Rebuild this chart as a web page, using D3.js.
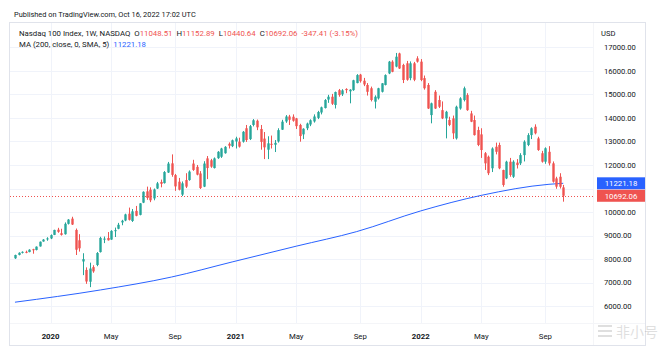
<!DOCTYPE html>
<html><head><meta charset="utf-8">
<script src="https://cdn.jsdelivr.net/npm/d3@7"></script>
<style>
body{margin:0;background:#fff;}
svg{display:block;font-family:Roboto,"Liberation Sans",sans-serif;}
</style>
</head><body>
<svg id="chart" width="671" height="350"></svg>
<script>
// ---------- DATA (weekly bars) ----------
const weeks = [
"2019-10-28","2019-11-04","2019-11-11","2019-11-18","2019-11-25","2019-12-02","2019-12-09","2019-12-16","2019-12-23","2019-12-30",
"2020-01-06","2020-01-13","2020-01-20","2020-01-27","2020-02-03","2020-02-10","2020-02-17","2020-02-24","2020-03-02","2020-03-09",
"2020-03-16","2020-03-23","2020-03-30","2020-04-06","2020-04-13","2020-04-20","2020-04-27","2020-05-04","2020-05-11","2020-05-18",
"2020-05-25","2020-06-01","2020-06-08","2020-06-15","2020-06-22","2020-06-29","2020-07-06","2020-07-13","2020-07-20","2020-07-27",
"2020-08-03","2020-08-10","2020-08-17","2020-08-24","2020-08-31","2020-09-07","2020-09-14","2020-09-21","2020-09-28","2020-10-05",
"2020-10-12","2020-10-19","2020-10-26","2020-11-02","2020-11-09","2020-11-16","2020-11-23","2020-11-30","2020-12-07","2020-12-14",
"2020-12-21","2020-12-28","2021-01-04","2021-01-11","2021-01-18","2021-01-25","2021-02-01","2021-02-08","2021-02-15","2021-02-22",
"2021-03-01","2021-03-08","2021-03-15","2021-03-22","2021-03-29","2021-04-05","2021-04-12","2021-04-19","2021-04-26","2021-05-03",
"2021-05-10","2021-05-17","2021-05-24","2021-05-31","2021-06-07","2021-06-14","2021-06-21","2021-06-28","2021-07-05","2021-07-12",
"2021-07-19","2021-07-26","2021-08-02","2021-08-09","2021-08-16","2021-08-23","2021-08-30","2021-09-06","2021-09-13","2021-09-20",
"2021-09-27","2021-10-04","2021-10-11","2021-10-18","2021-10-25","2021-11-01","2021-11-08","2021-11-15","2021-11-22","2021-11-29",
"2021-12-06","2021-12-13","2021-12-20","2021-12-27","2022-01-03","2022-01-10","2022-01-17","2022-01-24","2022-01-31","2022-02-07",
"2022-02-14","2022-02-21","2022-02-28","2022-03-07","2022-03-14","2022-03-21","2022-03-28","2022-04-04","2022-04-11","2022-04-18",
"2022-04-25","2022-05-02","2022-05-09","2022-05-16","2022-05-23","2022-05-30","2022-06-06","2022-06-13","2022-06-20","2022-06-27",
"2022-07-04","2022-07-11","2022-07-18","2022-07-25","2022-08-01","2022-08-08","2022-08-15","2022-08-22","2022-08-29","2022-09-05",
"2022-09-12","2022-09-19","2022-09-26","2022-10-03","2022-10-10"];

const opens = [
8035,8180,8270,8310,8300,8420,8390,8540,8750,8840,
8880,9030,9250,9100,9060,9500,9720,9240,8800,7900,
7540,7040,7660,7750,8300,8850,8900,8830,9220,9290,
9560,9640,9930,9620,10050,9880,10400,10880,10950,10580,
11000,11280,11230,11680,12070,11570,11290,10740,11360,11360,
12060,11920,11640,11080,12280,12200,11870,12290,12350,12500,
12900,12800,13000,12990,12990,13560,13100,13700,13880,13530,
13120,12650,12900,12860,13000,13500,13850,14060,14050,13980,
13700,13300,13560,13720,13850,14000,14230,14420,14780,14900,
14550,15180,15000,15230,15130,15180,15480,15840,15580,15400,
15260,14690,14830,15110,15400,15890,16390,16180,16740,16250,
16320,15690,16320,16530,16390,15690,15400,14120,15110,14760,
14330,13980,13910,13980,13130,14400,14760,14970,14190,13910,
13485,13300,12500,12350,11860,12775,12850,11785,11430,12140,
11500,12100,12070,12420,12850,13270,13625,13130,12500,12140,
12560,12070,11430,11500,11048.51];

const highs = [
8190,8290,8330,8360,8420,8440,8540,8750,8850,8930,
9050,9250,9330,9290,9560,9700,9800,9300,9060,8250,
7650,7850,7740,8300,8950,8960,9150,9230,9340,9540,
9670,9930,10190,10130,10260,10380,10880,11080,11050,11000,
11280,11380,11740,12130,12450,11620,11450,11300,11650,11770,
12220,12000,11740,12160,12380,12260,12320,12590,12730,12800,
12960,13080,13200,13160,13440,13700,13700,13950,13930,13700,
13400,13220,13250,13060,13560,13920,14120,14130,14150,14000,
13750,13560,13800,13940,14150,14300,14480,14800,14980,15020,
15120,15230,15220,15260,15220,15620,15860,15870,15700,15480,
15330,14960,15280,15480,15850,16420,16450,16760,16770,16300,
16420,16400,16380,16620,16500,15800,15480,14650,15180,14950,
14700,14300,14050,14100,14520,14880,15330,15050,14300,14100,
13625,13560,12550,12400,12750,12950,12950,11800,12180,12300,
12200,12250,12500,13050,13350,13600,13727,13200,12600,12750,
12800,12150,11500,11650,11152.89];

const lows = [
8010,8160,8240,8250,8290,8230,8370,8530,8740,8780,
8850,9020,9120,9000,9040,9470,9450,8175,8320,7320,
6950,6810,7420,7700,8280,8680,8790,8820,8940,9270,
9440,9610,9640,9580,9820,9860,10380,10520,10420,10500,
10980,11050,11210,11660,11500,10900,10920,10680,11020,11330,
11750,11560,10980,11060,11400,11880,11850,12260,12300,12480,
12700,12760,12700,12740,12950,12980,13060,13640,13480,12650,
12250,12250,12700,12550,12950,13490,13790,13700,13840,13530,
12990,13100,13480,13650,13800,13950,14150,14400,14640,14550,
14400,14900,14930,15050,14620,15150,15470,15500,15350,14950,
14700,14400,14780,15080,15380,15860,15940,16150,16080,15480,
15580,15600,15560,16350,15560,15200,14380,13770,14380,14420,
13950,13130,13650,13100,13080,14350,14700,14300,13820,13250,
12800,12300,11790,11570,11700,12450,11820,11076,11400,11500,
11450,11850,12000,12150,12800,13100,13300,12600,12100,12050,
11980,11250,10990,11000,10440.64];

const closes = [
8175,8270,8310,8290,8400,8380,8530,8740,8830,8880,
9020,9240,9160,9030,9500,9680,9470,8400,8460,8000,
7050,7600,7480,8260,8900,8870,8800,9200,9230,9460,
9630,9900,9670,10030,9840,10370,10860,10600,10500,10960,
11220,11200,11700,12060,11580,11090,10950,11220,11080,11720,
11790,11590,11020,12060,11870,11930,12280,12560,12700,12770,
12820,13050,13130,12780,13410,13060,13650,13900,13600,12980,
12750,12920,12870,12940,13480,13840,14060,13920,13880,13650,
13230,13540,13760,13900,14060,14250,14450,14760,14900,14600,
15100,14970,15170,15180,15200,15600,15820,15560,15420,15110,
14760,14900,15260,15470,15820,16390,15960,16600,16100,15610,
15620,16320,15620,16390,15610,15260,14400,14620,14400,14475,
13980,14260,13700,13345,14475,14830,15260,14330,13840,13270,
12850,12635,12070,11650,12700,12560,11860,11150,12140,11575,
12140,12000,12420,12990,13270,13560,13345,12635,12140,12710,
12070,11290,11080,11076,10692.06];

// 200-week SMA, read at points along the drawn line
const maDates  = ["2019-10-28","2020-04-13","2020-08-31","2020-12-28","2021-05-03","2021-08-30","2022-01-03","2022-05-02","2022-09-12","2022-10-10"];
const maValues = [6170,6690,7240,7880,8550,9170,10050,10710,11180,11221.18];

const priceTicks = [6000,7000,8000,9000,10000,11000,12000,13000,14000,15000,16000,17000];
const timeTickDates  = ["2020-01-06","2020-05-04","2020-09-07","2021-01-04","2021-05-03","2021-09-06","2022-01-03","2022-05-02","2022-09-05"];
const timeTickLabels = ["2020","May","Sep","2021","May","Sep","2022","May","Sep"];
const yearTicks = ["2020","2021","2022"];

const lastClose = 10692.06, lastMA = 11221.18;
const legendTitle = "Nasdaq 100 Index, 1W, NASDAQ";
const legendOHLC = [["O","11048.51"],["H","11152.89"],["L","10440.64"],["C","10692.06"]];
const legendChange = "-347.41 (-3.15%)";
const maTitle = "MA (200, close, 0, SMA, 5)";

// ---------- LAYOUT ----------
const UP = "#26a69a", DOWN = "#ef5350", MA = "#2962ff", TXT = "#131722", GRID = "#f0f3fa", BORDER = "#e0e3eb";
const pane = {left: 10, top: 23, right: 593, bottom: 323};
const svg = d3.select("#chart");

const x = d3.scaleBand().domain(weeks).range([13.2, 13.2 + weeks.length * 3.56]);
const cx = d => x(d) + x.bandwidth() / 2;
const y = d3.scaleLinear().domain([6000, 17000]).range([306.2, 47.3]);

// frame
svg.append("rect").attr("x", 9.5).attr("y", 22.5).attr("width", 636).attr("height", 323)
  .attr("fill", "none").attr("stroke", BORDER);

// gridlines
svg.append("g").selectAll("line").data(priceTicks).join("line")
  .attr("x1", pane.left).attr("x2", pane.right)
  .attr("y1", d => Math.round(y(d)) + 0.5).attr("y2", d => Math.round(y(d)) + 0.5)
  .attr("stroke", GRID);
svg.append("g").selectAll("line").data(timeTickDates).join("line")
  .attr("x1", d => Math.round(cx(d)) + 0.5).attr("x2", d => Math.round(cx(d)) + 0.5)
  .attr("y1", pane.top).attr("y2", pane.bottom)
  .attr("stroke", GRID);

// axis separators
svg.append("line").attr("x1", pane.right + 0.5).attr("x2", pane.right + 0.5)
  .attr("y1", pane.top).attr("y2", 345).attr("stroke", "#f4f5f8");
svg.append("line").attr("x1", pane.left).attr("x2", 645)
  .attr("y1", pane.bottom + 0.5).attr("y2", pane.bottom + 0.5).attr("stroke", "#f4f5f8");

// last price dotted line
svg.append("line").attr("x1", pane.left).attr("x2", pane.right)
  .attr("y1", Math.round(y(lastClose)) + 0.5).attr("y2", Math.round(y(lastClose)) + 0.5)
  .attr("stroke", DOWN).attr("stroke-dasharray", "1,2");

// MA line
const maPts = maDates.map((d, i) => [cx(d), y(maValues[i])]);
svg.append("path").attr("d", d3.line().curve(d3.curveMonotoneX)(maPts))
  .attr("fill", "none").attr("stroke", MA).attr("stroke-width", 1);

// candles
const bars = weeks.map((d, i) => ({d, o: opens[i], h: highs[i], l: lows[i], c: closes[i]}));
const cg = svg.append("g");
cg.selectAll("line").data(bars).join("line")
  .attr("x1", b => Math.round(cx(b.d)) + 0.5).attr("x2", b => Math.round(cx(b.d)) + 0.5)
  .attr("y1", b => y(b.h)).attr("y2", b => y(b.l))
  .attr("stroke", b => b.c >= b.o ? UP : DOWN).attr("stroke-width", 1);
cg.selectAll("rect").data(bars).join("rect")
  .attr("x", b => Math.round(cx(b.d)) - 0.7).attr("width", 2.4)
  .attr("y", b => y(Math.max(b.o, b.c)))
  .attr("height", b => Math.max(1, Math.abs(y(b.o) - y(b.c))))
  .attr("fill", b => b.c >= b.o ? UP : DOWN);

// price axis labels (ticks hidden behind the last-value boxes are not drawn, as in the original)
const boxVals = [lastMA, lastClose];
const hidden = v => boxVals.some(b => Math.abs(y(v) - y(b)) < 10);
svg.append("text").attr("x", 601).attr("y", 36).attr("font-size", 7.6).attr("fill", TXT).text("USD");
svg.append("g").selectAll("text").data(priceTicks.filter(v => !hidden(v))).join("text")
  .attr("x", 604).attr("y", d => y(d) + 2.8).attr("font-size", 7.6).attr("fill", TXT)
  .text(d => d3.format(".2f")(d));

// last value labels
[[lastMA, MA], [lastClose, DOWN]].forEach(([v, col]) => {
  svg.append("rect").attr("x", 597).attr("y", y(v) - 6).attr("width", 48).attr("height", 12).attr("fill", col);
  svg.append("text").attr("x", 621).attr("y", y(v) + 2.8).attr("text-anchor", "middle")
    .attr("font-size", 7.8).attr("fill", "#fff").text(d3.format(".2f")(v));
});

// time axis labels
svg.append("g").selectAll("text").data(timeTickDates).join("text")
  .attr("x", d => cx(d)).attr("y", 339).attr("text-anchor", "middle")
  .attr("font-size", 7.8).attr("fill", TXT)
  .attr("font-weight", (d, i) => yearTicks.includes(timeTickLabels[i]) ? "bold" : "normal")
  .text((d, i) => timeTickLabels[i]);

// header
svg.append("text").attr("x", 14).attr("y", 16.5).attr("font-size", 7.4).attr("fill", TXT)
  .text("Published on TradingView.com, Oct 16, 2022 17:02 UTC");

const l1 = svg.append("text").attr("x", 19).attr("y", 35.5).attr("font-size", 7.8).attr("fill", TXT);
l1.append("tspan").text(legendTitle);
legendOHLC.forEach(([k, v]) => {
  l1.append("tspan").attr("dx", 4).text(k);
  l1.append("tspan").attr("fill", DOWN).text(v);
});
l1.append("tspan").attr("dx", 4).attr("fill", DOWN).text(legendChange);

const l2 = svg.append("text").attr("x", 19).attr("y", 46.5).attr("font-size", 7.8).attr("fill", TXT);
l2.append("tspan").text(maTitle);
l2.append("tspan").attr("dx", 4).attr("fill", MA).text(d3.format(".2f")(lastMA));

// watermark
const wm = svg.append("g").attr("opacity", 0.3);
[0, 5, 10].forEach(dy => wm.append("rect").attr("x", 598).attr("y", 325 + dy).attr("width", 14).attr("height", 2).attr("fill", "#999"));
wm.append("text").attr("x", 616).attr("y", 337).attr("font-size", 14).attr("fill", "#999")
  .attr("font-family", "'Noto Sans CJK SC',sans-serif").text("非小号");
</script>
</body></html>
